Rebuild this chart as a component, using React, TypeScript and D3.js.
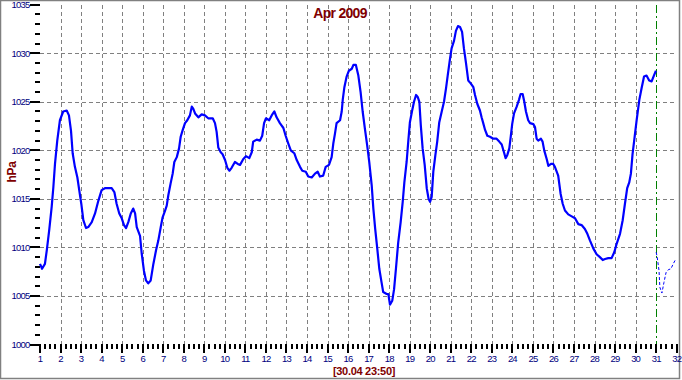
import React from "react";
import * as d3 from "d3";

const title = "Apr 2009";
const subtitle = "[30.04 23:50]";
const yLabel = "hPa";

const dayTicks = d3.range(1, 33);
const pressureTicks = [1000, 1005, 1010, 1015, 1020, 1025, 1030, 1035];
const gridPressures = [1005, 1010, 1015, 1020, 1025, 1030];
const gridDays = d3.range(2, 31);
const currentDay = 31;

const days = [
  1.0, 1.1, 1.24, 1.33, 1.45, 1.57, 1.65, 1.73, 1.84, 1.97, 2.13, 2.3, 2.41, 2.51, 2.59, 2.7, 2.82, 2.91,
  3.01, 3.11, 3.24, 3.35, 3.52, 3.68, 3.84, 4.0, 4.16, 4.49, 4.62, 4.73, 4.86, 4.98, 5.09, 5.19, 5.3,
  5.42, 5.54, 5.63, 5.71, 5.87, 5.95, 6.06, 6.16, 6.27, 6.39, 6.52, 6.65, 6.76, 6.88, 6.97, 7.09, 7.17,
  7.25, 7.36, 7.46, 7.54, 7.66, 7.77, 7.85, 7.95, 8.06, 8.17, 8.3, 8.39, 8.46, 8.55, 8.71, 8.87, 9.03,
  9.19, 9.41, 9.52, 9.6, 9.68, 9.8, 9.89, 10.01, 10.12, 10.22, 10.33, 10.49, 10.63, 10.74, 10.9, 11.03,
  11.19, 11.31, 11.38, 11.55, 11.71, 11.82, 11.91, 12.0, 12.16, 12.28, 12.41, 12.52, 12.68, 12.85,
  12.96, 13.09, 13.21, 13.38, 13.5, 13.66, 13.77, 13.94, 14.06, 14.23, 14.39, 14.52, 14.63, 14.79,
  14.91, 15.07, 15.2, 15.28, 15.36, 15.44, 15.61, 15.69, 15.74, 15.82, 15.93, 16.04, 16.18, 16.26,
  16.38, 16.5, 16.61, 16.71, 16.82, 16.93, 17.03, 17.15, 17.23, 17.32, 17.42, 17.52, 17.63, 17.71,
  17.88, 17.96, 18.04, 18.15, 18.24, 18.33, 18.44, 18.56, 18.66, 18.74, 18.85, 18.93, 19.01, 19.11,
  19.21, 19.31, 19.39, 19.47, 19.54, 19.63, 19.73, 19.83, 19.92, 19.99, 20.07, 20.15, 20.25, 20.34,
  20.44, 20.56, 20.67, 20.77, 20.85, 20.96, 21.04, 21.16, 21.25, 21.35, 21.45, 21.55, 21.64, 21.74,
  21.85, 21.97, 22.1, 22.18, 22.29, 22.42, 22.5, 22.58, 22.67, 22.78, 22.91, 23.07, 23.23, 23.36,
  23.48, 23.59, 23.67, 23.75, 23.85, 23.92, 23.99, 24.08, 24.21, 24.32, 24.4, 24.5, 24.58, 24.66,
  24.77, 24.86, 25.02, 25.1, 25.18, 25.26, 25.39, 25.47, 25.55, 25.67, 25.75, 25.88, 25.99, 26.07,
  26.23, 26.35, 26.45, 26.56, 26.72, 26.89, 27.05, 27.21, 27.37, 27.53, 27.65, 27.78, 27.94, 28.1,
  28.26, 28.4, 28.51, 28.67, 28.83, 28.96, 29.08, 29.24, 29.37, 29.48, 29.59, 29.69, 29.77, 29.85,
  29.93, 30.05, 30.18, 30.29, 30.41, 30.53, 30.66, 30.78, 30.89, 30.99,
];

const pressure = [
  1008.3, 1007.8, 1008.3, 1009.7, 1011.8, 1014.2, 1016.2, 1018.6, 1021.0, 1023.1, 1024.0, 1024.1, 1023.6,
  1022.0, 1019.7, 1018.3, 1017.2, 1015.9, 1014.5, 1012.8, 1012.0, 1012.1, 1012.6, 1013.5, 1014.8, 1015.9,
  1016.1, 1016.1, 1015.7, 1014.5, 1013.5, 1013.0, 1012.3, 1012.0, 1012.6, 1013.5, 1014.0, 1013.5, 1012.1,
  1011.2, 1009.4, 1007.6, 1006.6, 1006.3, 1006.6, 1008.3, 1009.7, 1010.7, 1012.1, 1013.1, 1013.8, 1014.3,
  1015.4, 1016.6, 1017.6, 1018.8, 1019.3, 1020.2, 1021.4, 1022.1, 1022.8, 1023.1, 1023.6, 1024.5, 1024.3,
  1023.8, 1023.4, 1023.7, 1023.6, 1023.3, 1023.3, 1022.8, 1021.9, 1020.3, 1019.8, 1019.6, 1019.0, 1018.2,
  1017.9, 1018.2, 1018.8, 1018.6, 1018.5, 1019.1, 1019.4, 1019.2, 1019.8, 1020.9, 1021.1, 1021.0, 1021.5,
  1022.8, 1023.3, 1023.1, 1023.6, 1024.0, 1023.4, 1022.8, 1022.3, 1021.5, 1020.7, 1020.0, 1019.7, 1019.0,
  1018.3, 1017.9, 1017.8, 1017.3, 1017.2, 1017.6, 1017.8, 1017.3, 1017.4, 1018.3, 1018.5, 1019.3, 1020.7,
  1021.7, 1022.8, 1023.1, 1024.0, 1025.2, 1026.5, 1027.6, 1028.2, 1028.4, 1028.8, 1028.8, 1027.7, 1026.0,
  1024.0, 1022.2, 1020.5, 1018.8, 1016.4, 1014.0, 1011.9, 1009.9, 1007.8, 1006.4, 1005.4, 1005.2, 1005.2,
  1004.1, 1004.5, 1005.7, 1007.8, 1010.5, 1012.6, 1014.7, 1016.7, 1018.8, 1020.9, 1022.9, 1024.0, 1025.0,
  1025.7, 1025.5, 1025.0, 1022.6, 1020.2, 1018.5, 1016.1, 1015.0, 1014.7, 1015.2, 1017.8, 1019.5, 1020.9,
  1022.9, 1024.0, 1025.0, 1026.4, 1027.7, 1029.4, 1030.5, 1031.3, 1032.3, 1032.8, 1032.7, 1032.2, 1030.5,
  1029.0, 1027.2, 1026.9, 1026.5, 1025.7, 1024.8, 1024.1, 1023.4, 1022.8, 1022.1, 1021.5, 1021.4, 1021.2,
  1021.2, 1020.9, 1020.6, 1019.8, 1019.2, 1019.5, 1020.2, 1021.4, 1022.7, 1023.8, 1024.5, 1025.2, 1025.8,
  1025.8, 1025.0, 1024.0, 1023.1, 1022.8, 1022.7, 1022.4, 1021.2, 1021.0, 1021.2, 1020.9, 1020.0, 1019.1,
  1018.4, 1018.6, 1018.6, 1018.3, 1017.4, 1015.5, 1014.5, 1013.8, 1013.4, 1013.2, 1013.0, 1012.4, 1012.3,
  1011.9, 1011.4, 1010.7, 1009.9, 1009.3, 1009.0, 1008.7, 1008.8, 1008.9, 1008.9, 1009.5, 1010.4, 1011.4,
  1012.8, 1014.5, 1016.1, 1016.7, 1017.6, 1019.6, 1021.0, 1023.1, 1025.2, 1026.4, 1027.6, 1027.7, 1027.2,
  1027.1, 1027.7, 1028.2,
];

const forecastDays = [31.0, 31.05, 31.14, 31.18, 31.28, 31.38, 31.48, 31.59, 31.72, 31.83, 31.93];
const forecastPressure = [1009.5, 1009.0, 1007.6, 1005.9, 1005.3, 1006.4, 1007.4, 1007.7, 1007.8, 1008.3, 1008.7];

const W = 682;
const H = 380;

export default function App() {
  const x = d3.scaleLinear().domain([1, 32]).range([40, 676.7]);
  const y = d3.scaleLinear().domain([1000, 1035]).range([344.5, 4.7]);

  const line = d3
    .line<[number, number]>()
    .x((d) => x(d[0]))
    .y((d) => y(d[1]));

  const mainPath = line(d3.zip(days, pressure) as [number, number][]) || "";
  const fcPath = line(d3.zip(forecastDays, forecastPressure) as [number, number][]) || "";

  const minorY = d3.range(1000, 1036).filter((v) => v % 5 !== 0);
  const minorX = d3.range(1, 32, 0.25).filter((v) => Math.abs(v - Math.round(v)) > 0.01);

  const axisFont = "Arial, 'Liberation Sans', sans-serif";
  const navy = "#000080";
  const maroon = "#800000";

  return (
    <div style={{ position: "absolute", left: 0, top: 0, width: W, height: H }}>
      <svg width={W} height={H} style={{ display: "block", background: "#fff" }}>
        <rect x={0} y={0} width={W} height={H} fill="#fff" />
        {/* frame */}
        <rect x={0.5} y={0.5} width={679} height={378} fill="none" stroke="#808080" strokeWidth={1.5} />

        {/* grid */}
        <g stroke="#808080" strokeWidth={1} strokeDasharray="4,3" shapeRendering="crispEdges">
          {gridPressures.map((v) => (
            <line key={"h" + v} x1={x(1)} x2={x(32)} y1={Math.round(y(v)) + 0.5} y2={Math.round(y(v)) + 0.5} />
          ))}
          {gridDays.map((d) => (
            <line key={"v" + d} x1={Math.round(x(d)) + 0.5} x2={Math.round(x(d)) + 0.5} y1={y(1035)} y2={y(1000)} />
          ))}
        </g>

        {/* current time marker */}
        <line
          x1={Math.round(x(currentDay)) + 0.5}
          x2={Math.round(x(currentDay)) + 0.5}
          y1={y(1035)}
          y2={y(1000)}
          stroke="#008000"
          strokeWidth={1}
          strokeDasharray="8,3,2,3"
          shapeRendering="crispEdges"
        />

        {/* ticks */}
        <g stroke="#000" strokeWidth={2} shapeRendering="crispEdges">
          {pressureTicks.map((v) => (
            <line key={"ym" + v} x1={30} x2={40} y1={Math.round(y(v))} y2={Math.round(y(v))} />
          ))}
          {minorY.map((v) => (
            <line key={"yn" + v} x1={35} x2={40} y1={Math.round(y(v))} y2={Math.round(y(v))} />
          ))}
          {dayTicks.map((d) => (
            <line key={"xm" + d} x1={Math.round(x(d))} x2={Math.round(x(d))} y1={344} y2={353} />
          ))}
          {minorX.map((d) => (
            <line key={"xn" + d} x1={Math.round(x(d))} x2={Math.round(x(d))} y1={344} y2={349} />
          ))}
        </g>

        {/* tick labels */}
        <g fill={navy} fontFamily={axisFont} fontSize={9.5} letterSpacing={-0.8}>
          {pressureTicks.map((v) => (
            <text key={"yl" + v} x={29.5} y={y(v)} textAnchor="end" dominantBaseline="central">
              {v}
            </text>
          ))}
          {dayTicks.map((d) => (
            <text key={"xl" + d} x={x(d)} y={362} textAnchor="middle">
              {d}
            </text>
          ))}
        </g>

        {/* data */}
        <path d={mainPath} fill="none" stroke="#0000ff" strokeWidth={2.2} strokeLinejoin="round" />
        <path d={fcPath} fill="none" stroke="#0000ff" strokeWidth={1} strokeDasharray="3,2" />

        {/* titles */}
        <text
          x={340}
          y={18}
          textAnchor="middle"
          fill={maroon}
          fontFamily={axisFont}
          fontWeight="bold"
          fontSize={14}
          letterSpacing={-0.7}
        >
          {title}
        </text>
        <text
          x={364}
          y={375}
          textAnchor="middle"
          fill={maroon}
          fontFamily={axisFont}
          fontWeight="bold"
          fontSize={11}
          letterSpacing={-0.3}
        >
          {subtitle}
        </text>
        <text
          transform="translate(12,172) rotate(-90)"
          textAnchor="middle"
          dominantBaseline="central"
          fill={maroon}
          fontFamily={axisFont}
          fontWeight="bold"
          fontSize={12}
          letterSpacing={-0.3}
        >
          {yLabel}
        </text>
      </svg>
    </div>
  );
}
